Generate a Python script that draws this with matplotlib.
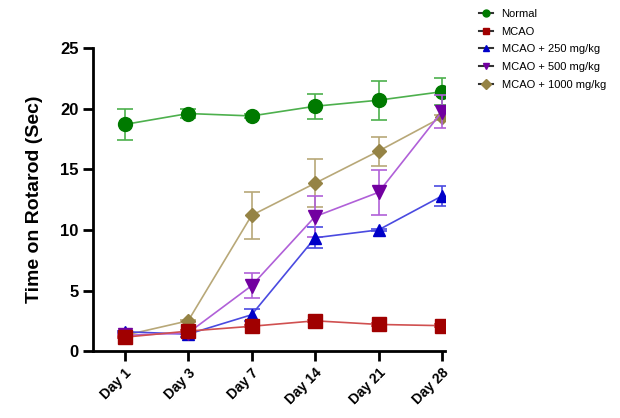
import matplotlib
matplotlib.use("Agg")
import matplotlib.pyplot as plt
from matplotlib.lines import Line2D

plt.rcParams['font.family'] = ['Liberation Sans', 'DejaVu Sans']

days = ["Day 1", "Day 3", "Day 7", "Day 14", "Day 21", "Day 28"]

normal = [18.7, 19.6, 19.4, 20.2, 20.7, 21.4]
normal_err = [1.3, 0.4, 0.15, 1.05, 1.6, 1.1]
mcao = [1.15, 1.65, 2.05, 2.5, 2.2, 2.1]
mcao_err = [0.1, 0.1, 0.1, 0.1, 0.1, 0.1]
d250 = [1.6, 1.4, 3.0, 9.35, 10.0, 12.8]
d250_err = [0.1, 0.2, 0.5, 0.85, 0.1, 0.85]
d500 = [1.3, 1.5, 5.4, 11.1, 13.1, 19.75]
d500_err = [0.1, 0.1, 1.05, 1.7, 1.85, 1.35]
d1000 = [1.3, 2.5, 11.2, 13.85, 16.5, 19.3]
d1000_err = [0.1, 0.1, 1.95, 2.0, 1.2, 0.2]

labels = ["Normal", "MCAO", "MCAO + 250 mg/kg", "MCAO + 500 mg/kg", "MCAO + 1000 mg/kg"]
series = [normal, mcao, d250, d500, d1000]
errors = [normal_err, mcao_err, d250_err, d500_err, d1000_err]
marker_cols = ["#007A00", "#A00000", "#0000C8", "#7200A0", "#958345"]
line_cols = ["#4DB04D", "#D05050", "#4A4AE0", "#B060D8", "#B8A878"]
markers = ["o", "s", "^", "v", "D"]
sizes = [10, 10, 9, 10, 7]
zorders = [3, 6, 4, 4, 3]

fig = plt.figure(figsize=(6.2, 4.18), dpi=100)
ax = fig.add_axes([0.15, 0.16, 0.568, 0.725])

x = list(range(len(days)))
handles = []
for vals, err, lab, mc, lc, m, s, z in zip(series, errors, labels, marker_cols, line_cols, markers, sizes, zorders):
    ax.errorbar(x, vals, yerr=err, color=lc, ecolor=lc, elinewidth=1.2, capsize=6, capthick=1.2,
                marker=m, markersize=s, markerfacecolor=mc, markeredgecolor=mc, linewidth=1.2, zorder=z)
    handles.append(Line2D([0], [0], color='#333333', linewidth=1.5, marker=m, markersize=5,
                          markerfacecolor=mc, markeredgecolor=mc, label=lab))

ax.set_xlim(-0.5, 5.05)
ax.set_ylim(0, 25)
ax.set_yticks([0, 5, 10, 15, 20, 25])
ax.set_xticks(x)
ax.set_xticklabels(days, rotation=45, ha='right', rotation_mode='anchor', fontsize=10, fontweight='bold')
for t in ax.get_yticklabels():
    t.set_fontweight('bold')
    t.set_fontsize(12)
ax.set_ylabel("Time on Rotarod (Sec)", fontsize=14, fontweight='bold', labelpad=12)

ax.spines['top'].set_visible(False)
ax.spines['right'].set_visible(False)
ax.spines['left'].set_linewidth(2)
ax.spines['bottom'].set_linewidth(2)
ax.tick_params(width=2, length=7, direction='out')

fig.legend(handles=handles, loc='upper left', bbox_to_anchor=(0.757, 1.003), frameon=False, fontsize=8,
           handlelength=1.2, handletextpad=0.8, labelspacing=0.7)

fig.savefig("out.png", dpi=100)
